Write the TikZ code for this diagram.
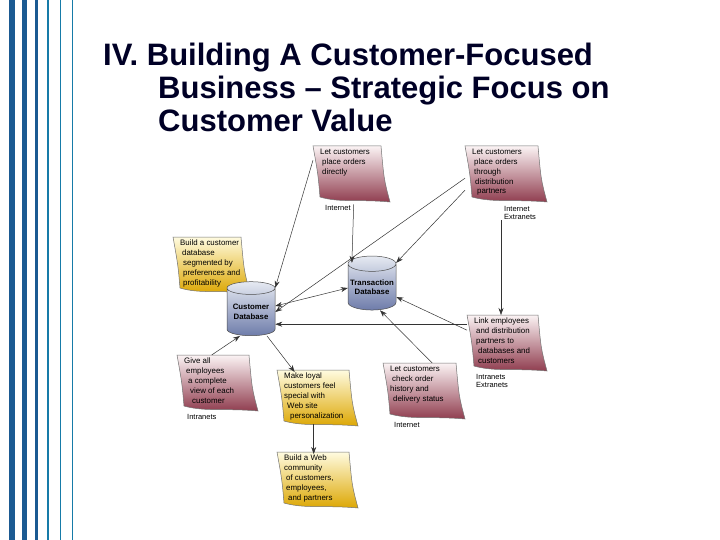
\documentclass[tikz,border=0pt]{standalone}
\usepackage{fontspec}
\setmainfont{Liberation Sans}
\usetikzlibrary{shapes.geometric,arrows.meta}
\definecolor{stripe}{HTML}{1B5A92}
\definecolor{redtop}{HTML}{FBF3F4}
\definecolor{redmid}{HTML}{D9AEB6}
\definecolor{redbot}{HTML}{8E3A4C}
\definecolor{yeltop}{HTML}{FFFBE0}
\definecolor{yelmid}{HTML}{F6DC70}
\definecolor{yelbot}{HTML}{DCA600}
\definecolor{dbtop}{HTML}{E6EAF2}
\definecolor{dbbot}{HTML}{6E7CAA}
\tikzset{
  conn/.style={-{Stealth[length=7pt,width=5pt]}, line width=0.5pt, black!80},
  notetext/.style={anchor=north west, align=left, inner sep=0pt, font=\fontsize{7.9}{9.8}\selectfont},
  lbl/.style={anchor=north west, align=left, inner sep=0pt, font=\fontsize{7.5}{8.5}\selectfont},
  db/.style={cylinder, shape border rotate=90, aspect=0.35, minimum width=48pt, minimum height=54pt, draw=black!70, line width=0.5pt, top color=dbtop, bottom color=dbbot, align=center, inner sep=0pt, font=\fontsize{7.8}{9.4}\selectfont\bfseries}
}
\newcommand\pnote[9]{%
  \shade[top color=#6, middle color=#7, bottom color=#8, draw=black!55, line width=0.5pt]
    (#2,#3) -- (#2+#4-9,#3) .. controls (#2+#4-6,#3+#5*0.6) .. (#2+#4,#3+#5)
    .. controls (#2+#4*0.6,#3+#5-3) and (#2+#4*0.35,#3+#5+1) .. (#2+7,#3+#5-5)
    .. controls (#2+5,#3+#5*0.5) .. cycle;
  \node[inner sep=0pt, minimum width=#4, minimum height=#5, anchor=north west] (#1) at (#2,#3) {};
  \node[notetext] at (#2+7,#3+3) {#9};
}
\begin{document}
\begin{tikzpicture}[x=1pt,y=-1pt]
\useasboundingbox (0,0) rectangle (720,540);
\fill[white] (0,0) rectangle (720,540);
% stripes
\fill[stripe] (9,0) rectangle (15,540);
\fill[stripe] (22,0) rectangle (27,540);
\fill[stripe] (35,0) rectangle (38,540);
\fill[stripe!80!cyan] (47,0) rectangle (49,540);
\fill[stripe!80!cyan] (60,0) rectangle (61,540);
\fill[stripe!80!cyan] (72,0) rectangle (73,540);
% title
\node[anchor=north west, inner sep=0pt, align=left, font=\fontsize{31}{33}\selectfont\bfseries, text=black!85!blue] (title) at (103,43)
  {IV. Building A Customer-Focused\\\hspace*{55pt}Business -- Strategic Focus on\\\hspace*{55pt}Customer Value};
% notes
\pnote{A}{313}{146}{77}{56}{redtop}{redmid}{redbot}{Let customers\\\hspace*{2pt}place orders\\\hspace*{2pt}directly}
\pnote{B}{465}{146}{82}{56}{redtop}{redmid}{redbot}{Let customers\\\hspace*{2pt}place orders\\\hspace*{2pt}through\\\hspace*{3pt}distribution\\\hspace*{5pt}partners}
\pnote{C}{173}{237}{77}{56}{yeltop}{yelmid}{yelbot}{Build a customer\\\hspace*{2pt}database\\\hspace*{3pt}segmented by\\\hspace*{3pt}preferences and\\\hspace*{3pt}profitability}
\pnote{D}{467}{315}{80}{56}{redtop}{redmid}{redbot}{Link employees\\\hspace*{2pt}and distribution\\\hspace*{2pt}partners to\\\hspace*{4pt}databases and\\\hspace*{4pt}customers}
\pnote{E}{177}{355}{81}{56}{redtop}{redmid}{redbot}{Give all\\\hspace*{2pt}employees\\\hspace*{4pt}a complete\\\hspace*{6pt}view of each\\\hspace*{8pt}customer}
\pnote{F}{277}{370}{81}{56}{yeltop}{yelmid}{yelbot}{Make loyal\\customers feel\\special with\\\hspace*{3pt}Web site\\\hspace*{6pt}personalization}
\pnote{G}{383}{363}{82}{56}{redtop}{redmid}{redbot}{Let customers\\\hspace*{2pt}check order\\history and\\\hspace*{3pt}delivery status}
\pnote{H}{277}{452}{81}{56}{yeltop}{yelmid}{yelbot}{Build a Web\\community\\\hspace*{2pt}of customers,\\\hspace*{2pt}employees,\\\hspace*{4pt}and partners}
% labels
\node[lbl] (lA) at (325,205) {Internet};
\node[lbl] (lB) at (504,206) {Internet\\Extranets};
\node[lbl] (lD) at (476,374) {Intranets\\Extranets};
\node[lbl] (lE) at (187,414) {Intranets};
\node[lbl] (lG) at (394,422) {Internet};
% databases
\node[db] (T) at (372,287) {Transaction\\Database};
\node[db] (Cdb) at (251,312) {Customer\\Database};
% connectors
\draw[conn] ([yshift=14pt]A.west) -- (Cdb.north east);
\draw[conn] ([xshift=2pt,yshift=-2pt]A.south) -- ([xshift=4pt]T.north west);
\draw[conn] ([yshift=-4pt]B.west) -- (Cdb.east);
\draw[conn] ([yshift=-16pt]B.west) -- (T.north east);
\draw[conn] (lB.south west) ++(-3,0) coordinate (b3) -- (b3 |- D.north);
\draw[conn, {Stealth[length=7pt,width=5pt]}-{Stealth[length=7pt,width=5pt]}] ([yshift=6pt]Cdb.east) -- ([yshift=-1pt]T.west);
\draw[conn] ([yshift=19pt]D.west) coordinate (d1) -- (d1 -| Cdb.east);
\draw[conn] ([yshift=13pt]D.west) -- ([yshift=-10pt]T.east);
\draw[conn] ([xshift=8pt]G.north) -- ([xshift=8pt]T.south);
\draw[conn] ([xshift=-6pt]E.north) -- ([xshift=-11pt]Cdb.south);
\draw[conn] ([xshift=16pt]Cdb.south) -- ([xshift=-23pt,yshift=-2pt]F.north);
\draw[conn] ([xshift=-4pt,yshift=2pt]F.south) -- ([xshift=-4pt,yshift=-2pt]H.north);
\end{tikzpicture}
\end{document}
